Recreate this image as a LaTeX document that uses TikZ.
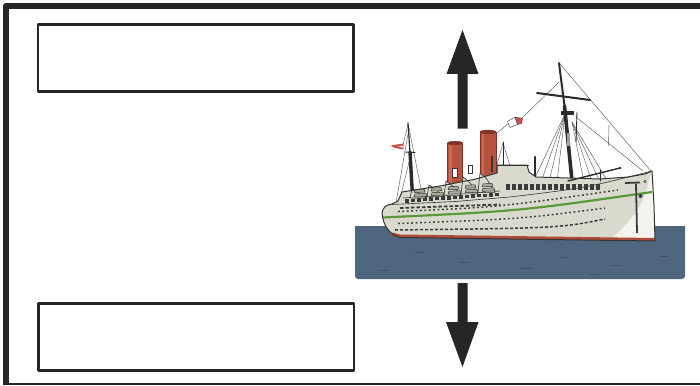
\documentclass[tikz,border=0pt]{standalone}
\definecolor{ink}{HTML}{262626}
\definecolor{water}{HTML}{4F6680}
\definecolor{wavec}{HTML}{3E5367}
\definecolor{hull}{HTML}{DAD9CE}
\definecolor{hullline}{HTML}{333331}
\definecolor{boww}{HTML}{F4F3EE}
\definecolor{stripe}{HTML}{5B9A3B}
\definecolor{redb}{HTML}{B04A3A}
\definecolor{funnel}{HTML}{B5533F}
\definecolor{funneld}{HTML}{7E3328}
\definecolor{funnell}{HTML}{C96B55}
\definecolor{boat}{HTML}{A9AE9A}
\definecolor{darkwin}{HTML}{3A3B3A}
\definecolor{mastc}{HTML}{2B2B2B}
\definecolor{rigc}{HTML}{5A5A5A}
\definecolor{flagr}{HTML}{C8504A}
\begin{document}
\begin{tikzpicture}[x=1pt,y=-1pt,line join=round]
\tikzset{
  answerbox/.style={draw=ink,line width=2.6pt,minimum width=315.6pt,minimum height=66.8pt,inner sep=0pt,fill=white},
  rig/.style={draw=rigc,line width=0.45pt,line cap=round},
  mastline/.style={draw=mastc,line cap=round},
  winrow/.style={draw=darkwin,line width=1.5pt,dash pattern=on 1.8pt off 2.6pt},
  wave/.style={draw=wavec,line width=0.6pt,line cap=round}
}
\def\shipbody{(382,213) .. controls (383,207) and (386,205) .. (392,204) -- (398,201) -- (402,192) -- (440,186) -- (476,179) -- (497,173) -- (497,165) -- (527,165) -- (529,172) -- (536,177) -- (600,179) -- (628,177) -- (645,174) -- (652,171) -- (654,205) -- (655,241) -- (400,237.5) .. controls (390,235) and (383,226) .. cycle}
\useasboundingbox (0,0) rectangle (700,385);
\fill[white] (0,0) rectangle (700,385);
% frame
\draw[ink,line width=6pt] (6,385) -- (6,6) -- (700,6);
\draw[ink,line width=1.6pt] (6,383.8) -- (700,383.8);
% boxes
\node[answerbox] (boxtop) at (195.9,58) {};
\node[answerbox] (boxbottom) at (196,337) {};
% arrows
\fill[ink] (457.5,128.5) -- (457.5,74) -- (446.5,74) -- (462.5,30) -- (478.5,74) -- (467.5,74) -- (467.5,128.5) -- cycle;
\fill[ink] (457.5,283) -- (457.5,322) -- (446,322) -- (462.5,367) -- (478.5,322) -- (467.5,322) -- (467.5,283) -- cycle;
% water
\fill[water] (355,226) -- (685,226) [rounded corners=3pt] -- (685,279) -- (355,279) [sharp corners] -- cycle;
\draw[wave] (378,270) -- (388,270);
\draw[wave] (415,252) -- (424,252);
\draw[wave] (460,262) -- (470,262);
\draw[wave] (520,268) -- (532,268);
\draw[wave] (560,257) -- (568,257);
\draw[wave] (610,265) -- (622,265);
\draw[wave] (660,256) -- (668,256);
\draw[wave] (590,274) -- (598,274);
% rear mast and rigging
\draw[rig] (409,128) -- (396,203);
\draw[rig] (409,128) -- (421,189);
\draw[rig] (410,158) -- (400,199);
\draw[rig] (408,124) -- (403,145);
\draw[mastline,line width=1.2pt] (408,123) -- (410.5,160);
\draw[mastline,line width=3.4pt] (410,152) -- (412.5,196);
\draw[mastline,line width=1pt] (405.5,152) -- (415,152.5);
\fill[flagr] (403.5,143.5) -- (390.5,145.5) -- (395,148) -- (403.5,149.5) -- cycle;
\fill[white] (403.5,145.5) -- (398,146.7) -- (403.5,147.7) -- cycle;
% main mast rigging
\draw[rig] (560,64) -- (651,171);
\draw[rig] (576,117) -- (643,171);
\draw[rig] (609,124) -- (608.5,146);
\draw[rig] (559,82) -- (521,119);
\draw[rig] (508,124) -- (497,133);
\foreach \xe in {533,541,549,557}{\draw[rig] (565,114) -- (\xe,182);}
\foreach \xe in {584,592,600,608}{\draw[rig] (572,122) -- (\xe,182);}
\draw[mastline,line width=0.9pt] (577,112) -- (576,142);
\draw[mastline,line width=2pt] (559,63) -- (565,110);
\draw[mastline,line width=3.6pt] (564.5,106) -- (572.5,186);
\fill[gray!75] (567.2,133) rectangle (570.2,146);
\fill[mastc] (560.5,110.5) rectangle (573.5,114.5);
\draw[mastline,line width=2pt] (537,93) -- (590,100);
% flag on backstay
\filldraw[fill=white,draw=hullline,line width=0.4pt] (507.5,121.5) -- (515,117) -- (517.5,124.5) -- (510,127.5) -- cycle;
\filldraw[fill=flagr,draw=hullline,line width=0.3pt] (515,117) -- (522.5,118.5) -- (521.5,123.5) -- (517.5,124.5) -- cycle;
% thin mast and post
\draw[rig] (503,143) -- (496,168);
\draw[rig] (503,143) -- (511,169);
\draw[mastline,line width=0.9pt] (503,142) -- (503,170);
\draw[mastline,line width=2.2pt] (535,157) -- (535,180);
% funnels
\filldraw[fill=funnel,draw=funneld,line width=0.7pt] (447.5,143) -- (447.5,184) -- (462.5,184) -- (462.5,143) -- cycle;
\fill[funnell] (449,145) rectangle (451.5,183);
\filldraw[fill=funneld,draw=funneld] (455,143) ellipse [x radius=7.5,y radius=1.8];
\filldraw[fill=funnel,draw=funneld,line width=0.7pt] (480,132) -- (480,176) -- (496,176) -- (496,132) -- cycle;
\fill[funnell] (481.5,134) rectangle (484,175);
\filldraw[fill=funneld,draw=funneld] (488,132) ellipse [x radius=8,y radius=2];
% hull body
\fill[hull] \shipbody;
\fill[boww] (610,239.5) .. controls (628,225) and (645,205) .. (649,180) -- (652,171) -- (654,205) -- (655,239.5) -- cycle;
\draw[redb,line width=3pt] (392,234) -- (400,236) -- (654.5,239.5);
% deck lines
\draw[hullline,line width=0.6pt] (392,204.5) -- (455,201.5) -- (510,197) .. controls (585,188) .. (652,171);
\draw[hullline,line width=0.5pt] (497,165.5) -- (529,165.5);
% vents
\filldraw[fill=white,draw=hullline,line width=0.6pt] (452.5,168) rectangle (457,177) ;
\filldraw[fill=white,draw=hullline,line width=0.6pt] (468,165) rectangle (472,173);
\draw[hullline,line width=1.3pt] (492,156) -- (492,172);
% stern superstructure rail and dark windows
\draw[hullline,line width=0.6pt] (403,198) -- (500,191);
\foreach \x in {405,411,...,495}{\fill[darkwin] (\x,{202.5-(\x-405)*0.07}) rectangle ++(4,-3.5);}
% front superstructure dark windows
\foreach \x in {506,512,...,596}{\fill[darkwin] (\x,183.5) rectangle ++(4,6);}
% davits with lifeboats
\foreach \k in {0,1,2,3,4}{
  \pgfmathsetmacro{\px}{412+17*\k}
  \pgfmathsetmacro{\py}{189-4*\k}
  \pgfmathsetmacro{\pb}{198-1.4*\k}
  \filldraw[fill=hull,draw=hullline,line width=0.6pt] ({\px-2},{\pb}) -- ({\px},{\py}) .. controls ({\px+5},{\py+3}) .. ({\px+15},{\pb}) -- cycle;
  \filldraw[fill=boat,draw=hullline,line width=0.5pt] ({\px+2},{\pb-1}) -- ({\px+15},{\pb-1.5}) -- ({\px+14},{\pb-4.5}) -- ({\px+3},{\pb-4}) -- cycle;
  \filldraw[fill=boat,draw=hullline,line width=0.5pt] ({\px+2},{\pb-5.5}) -- ({\px+13},{\pb-6}) -- ({\px+12},{\pb-9}) -- ({\px+3},{\pb-8.5}) -- cycle;
}
% window rows
\draw[darkwin,line width=1.8pt,dash pattern=on 3.5pt off 2pt] (400,208) -- (500,204.5);
\draw[winrow] (398,211.5) .. controls (500,207) .. (618,190);
\draw[stripe,line width=2.2pt] (383,217.5) .. controls (520,211) .. (652,192);
\draw[winrow] (398,223.5) .. controls (520,219) .. (605,208);
\draw[darkwin,line width=1.5pt,dash pattern=on 3pt off 2pt] (395,230) .. controls (560,228) .. (605,219);
% derrick and bow fittings
\draw[mastline,line width=1.4pt] (568,181) -- (620,168);
\fill[mastc] (620,168) circle (1.3);
\draw[mastline,line width=1pt] (600,170) -- (600,181);
\draw[darkwin,line width=1.8pt] (636,184) -- (637,233);
\draw[darkwin,line width=1.8pt] (625,183) -- (640,182.5);
\fill[darkwin] (640.5,196) circle (2);
\draw[hullline,line width=0.5pt] (645,181.5) circle (1.3);
% hull outline
\draw[hullline,line width=1pt] \shipbody;
\end{tikzpicture}
\end{document}
